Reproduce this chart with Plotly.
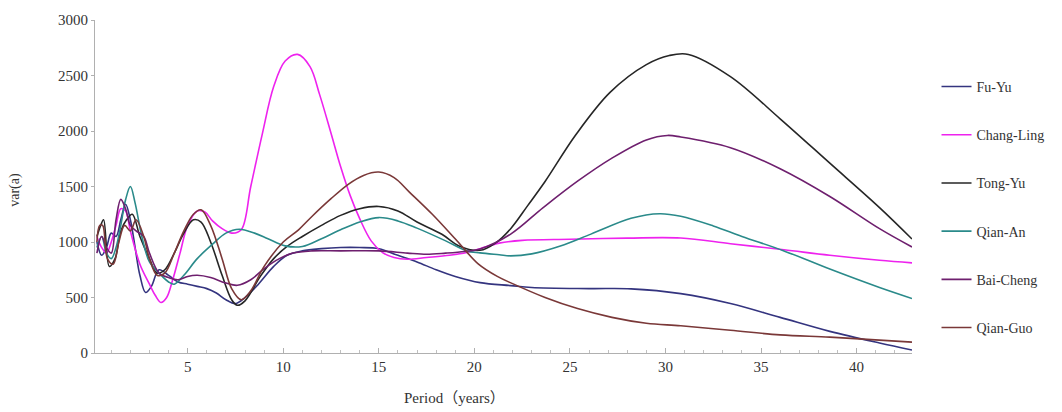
import plotly.graph_objects as go

# ---------------- data ----------------
t_fu_yu = [0.25, 0.5, 0.75, 1.0, 1.25, 1.5, 1.75, 2.0, 2.25, 2.5, 2.8, 3.1, 3.5, 4.0, 4.5, 5.0, 5.5, 6.0,
           6.5, 7.0, 7.5, 8.0, 8.7, 9.5, 10.2, 11, 12, 13, 14, 15, 16, 17, 18, 19, 20.3, 21.9, 23, 26,
           28.2, 30.8, 33.4, 36, 38.6, 41.2, 42.9]
v_fu_yu = [1000, 880, 950, 1080, 1050, 1200, 1340, 1200, 950, 700, 545, 600, 750, 700, 640, 620, 600, 580,
           540, 480, 445, 500, 620, 780, 880, 920, 940, 950, 950, 940, 880, 820, 750, 690, 634, 607, 590, 580,
           578, 535, 446, 321, 195, 90, 27]

t_chang_ling = [0.25, 0.5, 0.75, 1.0, 1.25, 1.5, 1.75, 2.0, 2.5, 3.0, 3.3, 3.6, 3.9, 4.2, 4.6, 5.0, 5.5,
                5.9, 6.3, 6.8, 7.3, 7.8, 8.3, 8.9, 9.5, 10.1, 10.75, 11.4, 11.9, 12.5, 13.0, 13.5, 14.0,
                14.6, 15.2, 15.8, 16.5, 17.5, 18.7, 19.6, 20.3, 21.3, 22.5, 25, 28, 30.8, 33.4, 36.2,
                38.6, 41.2, 42.9]
v_chang_ling = [1050, 950, 900, 1000, 1150, 1300, 1280, 1100, 800, 620, 520, 455, 500, 650, 900, 1150, 1280,
                1270, 1190, 1120, 1080, 1110, 1500, 1970, 2400, 2630, 2690, 2580, 2330, 1980, 1680, 1420, 1210,
                1010, 905, 860, 845, 860, 880, 905, 940, 990, 1015, 1025, 1035, 1036, 985, 930,
                880, 835, 812]

t_tong_yu = [0.25, 0.45, 0.6, 0.9, 1.2, 1.5, 1.8, 2.1, 2.5, 3.0, 3.4, 3.8, 4.3, 4.8, 5.3, 5.7, 6.2, 6.8,
             7.3, 7.6, 8.0, 8.8, 9.5, 10.2, 11, 12, 13, 14, 15, 16, 17, 18.3, 19.2, 20.3, 21.1, 21.9, 22.8,
             23.7, 25.3, 27.1, 29, 30.2, 31.2, 33.4, 36, 38.6, 41.2, 42.9]
v_tong_yu = [1050, 1150, 1200, 780, 850, 1100, 1200, 1250, 1050, 850, 720, 750, 900, 1080, 1200, 1180, 1000, 700,
             480, 430, 470, 690, 850, 960, 1050, 1150, 1240, 1300, 1320, 1280, 1180, 1070, 965, 925, 990, 1120, 1330,
             1545, 1964, 2348, 2598, 2680, 2690, 2490, 2110, 1710, 1310, 1027]

t_qian_an = [0.25, 0.5, 0.75, 1.0, 1.25, 1.5, 1.75, 2.0, 2.25, 2.6, 3.0, 3.5, 4.0, 4.3, 4.8, 5.5, 6.3, 7.0,
             7.7, 8.5, 9.2, 10.1, 11, 12, 13, 14, 15, 16, 17, 18.5, 19.6, 20.3, 21.3, 21.9, 23, 24.5, 26.1,
             28.2, 29.7, 30.8, 32.5, 34, 36.2, 38.6, 41.2, 42.9]
v_qian_an = [950, 1050, 900, 850, 950, 1150, 1380, 1500, 1350, 1050, 820, 720, 640, 620, 700, 850, 980, 1080,
             1115, 1080, 1030, 965, 960, 1030, 1110, 1180, 1220, 1190, 1125, 1010, 920, 902, 885, 875, 893, 964,
             1071, 1214, 1255, 1232, 1145, 1050, 920, 756, 590, 491]

t_bai_cheng = [0.25, 0.5, 0.75, 1.0, 1.25, 1.5, 1.75, 2.0, 2.3, 2.7, 3.0, 3.5, 4.0, 4.5, 5.0, 5.5, 6.2, 7.0,
               7.6, 8.3, 9.0, 9.8, 10.5, 11.5, 13, 15, 16.5, 17.5, 18.5, 19.5, 20.3, 21.9, 23.6, 25.4, 27.2,
               29, 30.1, 30.8, 33.4, 36, 38.6, 41.2, 42.9]
v_bai_cheng = [900, 1050, 950, 900, 1200, 1384, 1300, 1150, 1100, 1050, 900, 720, 680, 660, 690, 700, 680, 630,
               610, 660, 760, 850, 900, 920, 920, 920, 900, 890, 900, 915, 937, 1071, 1310, 1548, 1756,
               1920, 1960, 1946, 1850, 1660, 1410, 1120, 955]

t_qian_guo = [0.25, 0.4, 0.55, 0.8, 1.1, 1.4, 1.7, 2.0, 2.3, 2.7, 3.0, 3.4, 3.8, 4.3, 4.8, 5.3, 5.7, 6.2,
              6.8, 7.3, 7.8, 8.3, 9.0, 10, 10.8, 11.5, 12.5, 13.4, 14.2, 15, 15.8, 16.6, 17.8, 19.1, 20.2,
              21.2, 22, 23.7, 25.4, 27.2, 29, 30.8, 33.4, 36, 38.6, 41.2, 42.9]
v_qian_guo = [1000, 1150, 1150, 850, 800, 1000, 1150, 1100, 1200, 1050, 850, 700, 720, 900, 1100, 1250, 1290, 1150,
              850, 580, 480, 560, 780, 1000, 1110, 1230, 1390, 1520, 1600, 1630, 1580, 1450, 1250, 1009, 803,
              690, 625, 500, 400, 321, 268, 245, 205, 163, 143, 116, 98]

series_names = ["Fu-Yu", "Chang-Ling", "Tong-Yu", "Qian-An", "Bai-Cheng", "Qian-Guo"]
series_colors = ["#34347f", "#ee22ee", "#262626", "#2a8a8a", "#6e1f6e", "#7a3838"]
x_ticks = [5, 10, 15, 20, 25, 30, 35, 40]
y_ticks = [0, 500, 1000, 1500, 2000, 2500, 3000]

# ---------------- figure ----------------
FONT = "Liberation Serif, Times New Roman, serif"
fig = go.Figure()
all_t = [t_fu_yu, t_chang_ling, t_tong_yu, t_qian_an, t_bai_cheng, t_qian_guo]
all_v = [v_fu_yu, v_chang_ling, v_tong_yu, v_qian_an, v_bai_cheng, v_qian_guo]
for i, (name, col) in enumerate(zip(series_names, series_colors)):
    fig.add_trace(go.Scatter(
        x=all_t[i], y=all_v[i], name=name, mode="lines",
        line=dict(color=col, width=1.6, shape="spline", smoothing=1.0),
        legendgroup=name,
    ))

fig.update_layout(
    width=1062, height=412,
    margin=dict(l=95, r=150, t=17, b=59),
    paper_bgcolor="white", plot_bgcolor="white",
    font=dict(family=FONT, size=14, color="#333333"),
    showlegend=True,
    legend=dict(x=1.03, xanchor="left", y=0.847, yanchor="top",
                font=dict(family=FONT, size=14, color="#333333"),
                tracegroupgap=27, bgcolor="rgba(0,0,0,0)"),
    xaxis=dict(range=[0.15, 42.9], tickvals=x_ticks, showgrid=False, zeroline=False,
               showline=True, linecolor="#b0b0b0", linewidth=1,
               ticks="inside", ticklen=5, tickcolor="#b0b0b0",
               minor=dict(dtick=1, tick0=0, ticks="inside", ticklen=3, tickcolor="#c0c0c0"),
               tickfont=dict(family=FONT, size=15, color="#333333")),
    yaxis=dict(range=[0, 3000], tickvals=y_ticks, showgrid=False, zeroline=False,
               showline=True, linecolor="#b0b0b0", linewidth=1,
               ticks="outside", ticklen=3, tickcolor="#b0b0b0",
               tickfont=dict(family=FONT, size=15, color="#333333")),
    annotations=[
        dict(text="Period（years）", xref="paper", yref="paper", x=0.44, y=-0.134,
             xanchor="center", yanchor="middle", showarrow=False,
             font=dict(family=FONT + ", Noto Sans CJK SC", size=15, color="#333333")),
        dict(text="var(a)", xref="paper", yref="paper", x=-0.098, y=0.49,
             xanchor="center", yanchor="middle", showarrow=False, textangle=-90,
             font=dict(family=FONT, size=14, color="#333333")),
    ],
)

fig.write_html("out.html")
